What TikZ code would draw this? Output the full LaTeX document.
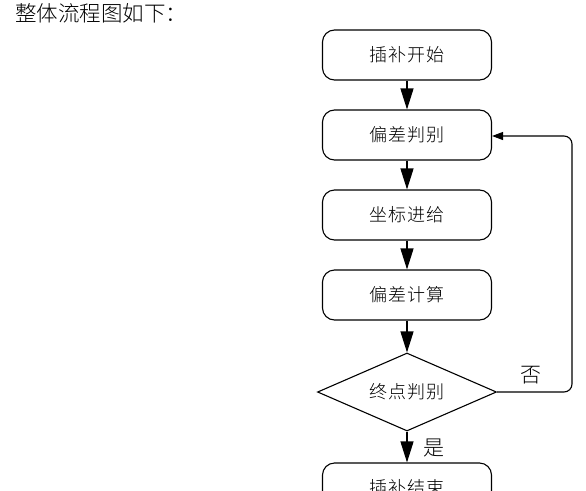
\documentclass[tikz,border=0pt]{standalone}
\usepackage{fontspec}
\newfontfamily\cjk{Noto Sans CJK SC Light}[LetterSpace=6]
\newfontfamily\cjktitle{Noto Sans CJK SC Light}
\usetikzlibrary{shapes.geometric,arrows.meta}
\begin{document}
\begin{tikzpicture}[x=1pt,y=-1pt,
  every node/.style={font=\cjk\fontsize{18}{18}\selectfont},
  stepbox/.style={draw,line width=1.1pt,rounded corners=12pt,minimum width=169pt,minimum height=50pt,inner sep=0pt},
  flow/.style={line width=1.1pt,-{Triangle[length=21pt,width=13pt]}},
  back/.style={line width=1.1pt,rounded corners=8pt,-{Triangle[length=11pt,width=8pt]}}]
\useasboundingbox (0,0) rectangle (586,490);
\clip (0,0) rectangle (586,490);
\node[font=\cjktitle\fontsize{21.5}{21.5}\selectfont,anchor=west,inner sep=0pt] (title) at (15,13) {整体流程图如下：};
\node[stepbox] (s) at (407,55) {插补开始};
\node[stepbox] (j) at (407,135) {偏差判别};
\node[stepbox] (f) at (407,215) {坐标进给};
\node[stepbox] (c) at (407,295) {偏差计算};
\node[draw,line width=1.1pt,minimum width=179pt,minimum height=78pt,inner sep=0pt,shape=diamond,aspect=2.29] (d) at (407,392) {终点判别};
\node[stepbox] (e) at (407,488) {插补结束};
\coordinate (r1) at (572,392);
\coordinate (r2) at (572,136);
\draw[flow] (s) -- (j);
\draw[flow] (j) -- (f);
\draw[flow] (f) -- (c);
\draw[flow] (c) -- (d);
\draw[flow] (d) -- (e);
\draw[back] (d.east) -- (r1) -- (r2) -- (j.east |- r2);
\node[font=\cjktitle\fontsize{21}{21}\selectfont] (no) at (531,375) {否};
\node[font=\cjktitle\fontsize{21}{21}\selectfont] (yes) at (434,448) {是};
\end{tikzpicture}
\end{document}
